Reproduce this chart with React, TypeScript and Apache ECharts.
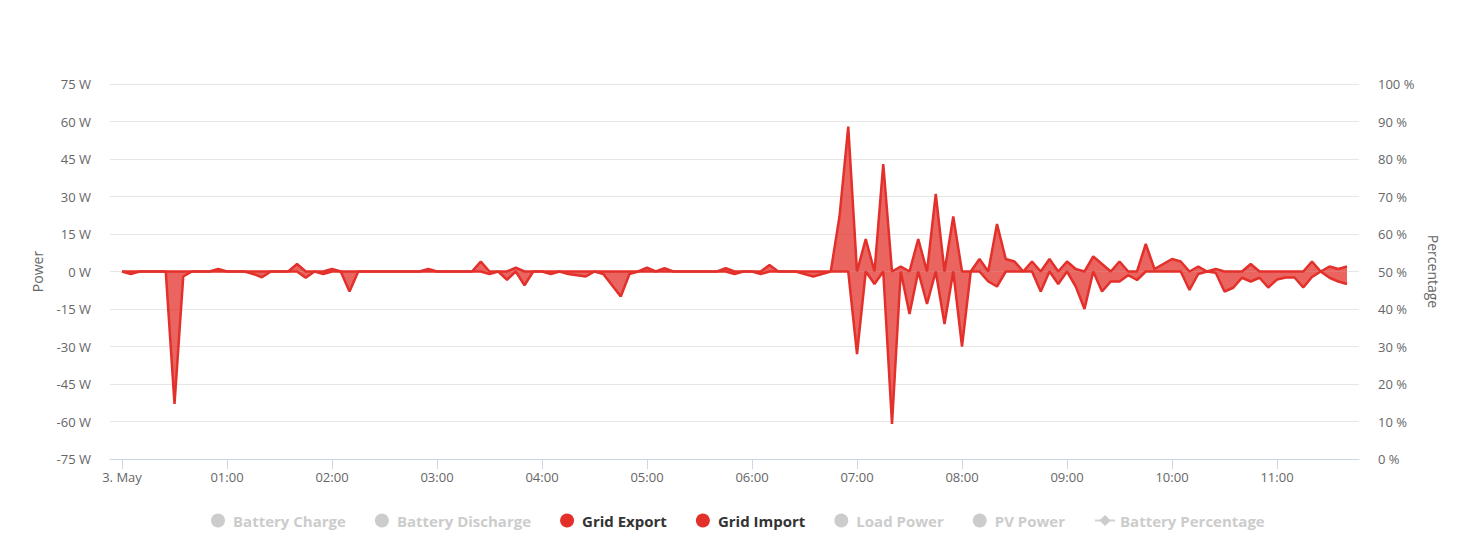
import React, { useEffect, useRef } from "react";
import * as echarts from "echarts";

// 5-minute samples from 00:00 (3. May) to 11:40
const stepMinutes = 5;

const gridImport = [
  0, 0, 0, 0, 0, 0, 0, 0, 0, 0, 0, 1,
  0, 0, 0, 0, 0, 0, 0, 0, 3, 0, 0, 0,
  1, 0, 0, 0, 0, 0, 0, 0, 0, 0, 0, 1,
  0, 0, 0, 0, 0, 4, 0, 0, 0, 1.5, 0, 0,
  0, 0, 0, 0, 0, 0, 0, 0, 0, 0, 0, 0,
  1.5, 0, 1.3, 0, 0, 0, 0, 0, 0, 1.3, 0, 0,
  0, 0, 2.6, 0, 0, 0, 0, 0, 0, 0, 22, 58,
  0, 13, 0, 43, 0, 2, 0, 13, 0, 31, 0, 22,
  0, 0, 5, 0, 19, 5, 4, 0, 4, 0, 5, 0,
  4, 1, 0, 6, 3, 0, 4, 0, 0, 11, 1, 3,
  5, 4, 0, 2, 0, 1, 0, 0, 0, 3, 0, 0,
  0, 0, 0, 0, 4, 0, 2, 1, 2,
];

const gridExport = [
  0, -1, 0, 0, 0, 0, -53, -2, 0, 0, 0, 0,
  0, 0, 0, -1, -2.3, 0, 0, 0, 0, -2.5, 0, -1,
  0, 0, -8, 0, 0, 0, 0, 0, 0, 0, 0, 0,
  0, 0, 0, 0, 0, 0, -1, 0, -3.3, 0, -5.5, 0,
  0, -1, 0, -1, -1.5, -2, 0, -1, -5.5, -10, -1, 0,
  0, 0, 0, 0, 0, 0, 0, 0, 0, 0, -1, 0,
  0, -1, 0, 0, 0, 0, -1, -2, -1, 0, 0, 0,
  -33, 0, -5, 0, -61, 0, -17, 0, -13, 0, -21, 0,
  -30, 0, 0, -4, -6, 0, 0, 0, 0, -8, 0, -5,
  0, -6, -15, 0, -8, -4, -4, -1.5, -3.4, 0, 0, 0,
  0, 0, -7.4, -1, 0, -0.5, -8, -6.5, -2.5, -4, -2.5, -6.4,
  -3.2, -2.4, -2.4, -6.4, -2.2, 0, -2.5, -4, -5,
];

// hour ticks in minutes since midnight
const hourTicks = [0, 60, 120, 180, 240, 300, 360, 420, 480, 540, 600, 660];
const firstDayLabel = "3. May";

const legendNames = [
  "Battery Charge",
  "Battery Discharge",
  "Grid Export",
  "Grid Import",
  "Load Power",
  "PV Power",
  "Battery Percentage",
];
const hiddenSeries = ["Battery Charge", "Battery Discharge", "Load Power", "PV Power", "Battery Percentage"];

const RED = "#e3302b";
const FONT = "'Open Sans', sans-serif";

function toPairs(values: number[]) {
  return values.map((v, i) => [i * stepMinutes, v]);
}

function fmtHour(v: number) {
  if (v === 0) return firstDayLabel;
  const h = Math.floor(v / 60);
  return (h < 10 ? "0" + h : "" + h) + ":00";
}

export default function App() {
  const ref = useRef<HTMLDivElement>(null);

  useEffect(() => {
    if (!ref.current) return;
    const chart = echarts.init(ref.current, undefined, { renderer: "svg" });
    const selected: Record<string, boolean> = {};
    legendNames.forEach((n) => (selected[n] = hiddenSeries.indexOf(n) < 0));

    const areaSeries = (name: string, values: number[]) => ({
      name,
      type: "line",
      data: toPairs(values),
      showSymbol: false,
      symbol: "none",
      lineStyle: { color: RED, width: 2.5 },
      itemStyle: { color: RED },
      areaStyle: { color: RED, opacity: 0.75 },
      z: 3,
    });

    chart.setOption({
      animation: false,
      textStyle: { fontFamily: FONT },
      grid: { left: 110, right: 101, top: 84, bottom: 83, containLabel: false },
      legend: {
        top: 508,
        left: 206,
        itemWidth: 20,
        itemHeight: 14,
        itemGap: 29,
        selected,
        inactiveColor: "#cccccc",
        textStyle: { color: "#333333", fontSize: 15, fontWeight: "bold", fontFamily: FONT },
        data: legendNames.map((n) =>
          n === "Battery Percentage" ? { name: n } : { name: n, icon: "circle" }
        ),
      },
      xAxis: {
        type: "value",
        min: -6.857,
        max: 706.857,
        axisLine: { show: true, onZero: false, lineStyle: { color: "#ccd6eb", width: 1 } },
        axisTick: {
          show: true,
          length: 10,
          customValues: hourTicks,
          lineStyle: { color: "#ccd6eb" },
        },
        axisLabel: {
          customValues: hourTicks,
          formatter: (v: number) => fmtHour(v),
          color: "#666666",
          fontSize: 13,
          margin: 11,
          fontFamily: FONT,
        },
        splitLine: { show: false },
      },
      yAxis: [
        {
          type: "value",
          min: -75,
          max: 75,
          interval: 15,
          name: "Power",
          nameLocation: "middle",
          nameRotate: 90,
          nameGap: 66,
          nameTextStyle: { color: "#666666", fontSize: 14, fontFamily: FONT },
          axisLine: { show: false },
          axisTick: { show: false },
          axisLabel: {
            formatter: "{value} W",
            color: "#666666",
            fontSize: 13,
            margin: 19,
            fontFamily: FONT,
          },
          splitLine: { show: true, lineStyle: { color: "#e6e6e6", width: 1 } },
        },
        {
          type: "value",
          min: 0,
          max: 100,
          interval: 10,
          position: "right",
          name: "Percentage",
          nameLocation: "middle",
          nameRotate: -90,
          nameGap: 67,
          nameTextStyle: { color: "#666666", fontSize: 14, fontFamily: FONT },
          axisLine: { show: false },
          axisTick: { show: false },
          axisLabel: {
            formatter: "{value} %",
            color: "#666666",
            fontSize: 13,
            margin: 19,
            fontFamily: FONT,
          },
          splitLine: { show: false },
        },
      ],
      series: [
        { name: "Battery Charge", type: "line", data: [], itemStyle: { color: "#7cb5ec" }, areaStyle: {} },
        { name: "Battery Discharge", type: "line", data: [], itemStyle: { color: "#434348" }, areaStyle: {} },
        areaSeries("Grid Export", gridExport),
        areaSeries("Grid Import", gridImport),
        { name: "Load Power", type: "line", data: [], itemStyle: { color: "#f7a35c" }, areaStyle: {} },
        { name: "PV Power", type: "line", data: [], itemStyle: { color: "#8085e9" }, areaStyle: {} },
        {
          name: "Battery Percentage",
          type: "line",
          yAxisIndex: 1,
          data: [],
          symbol: "diamond",
          symbolSize: 8,
          itemStyle: { color: "#2b908f" },
        },
      ],
    });
    return () => chart.dispose();
  }, []);

  return (
    <div
      ref={ref}
      style={{ position: "absolute", left: 0, top: 0, width: 1460, height: 542, background: "#ffffff" }}
    />
  );
}
